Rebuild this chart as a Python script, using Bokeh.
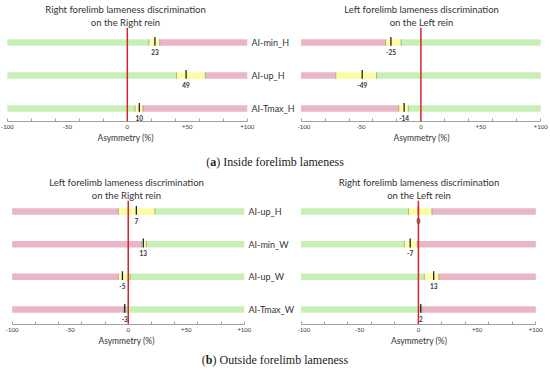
from bokeh.plotting import figure
from bokeh.models import Range1d, FixedTicker, Span, Div, ColumnDataSource, Title
from bokeh.layouts import column, row
from bokeh.embed import file_html
from bokeh.resources import INLINE
from bokeh.core.properties import value

# ---------------- data ----------------
# (a) Inside forelimb lameness
a_left_title = ["Right forelimb lameness discrimination", "on the Right rein"]
a_right_title = ["Left forelimb lameness discrimination", "on the Left rein"]
a_labels = ["AI-min_H", "AI-up_H", "AI-Tmax_H"]
a_left_values = [23, 49, 10]
a_left_lo = [18, 41, 6.5]      # green -> yellow
a_left_hi = [27, 65, 13]       # yellow -> pink
a_right_values = [-25, -49, -14]
a_right_lo = [-29.5, -71, -18.5]   # pink -> yellow
a_right_hi = [-16.5, -37, -10.5]   # yellow -> green

# (b) Outside forelimb lameness
b_left_title = ["Left forelimb lameness discrimination", "on the Right rein"]
b_right_title = ["Right forelimb lameness discrimination", "on the Left rein"]
b_labels = ["AI-up_H", "AI-min_W", "AI-up_W", "AI-Tmax_W"]
b_left_values = [7, 13, -5, -3]
b_left_lo = [-8.5, 11.5, -8.5, -4]   # pink -> yellow
b_left_hi = [23, 15.5, 1.5, -2]      # yellow -> green
b_right_values = [0, -7, 13, 2]
b_right_lo = [-8.5, -12, 5, 1.5]     # green -> yellow
b_right_hi = [11.5, -1, 17.5, 3]     # yellow -> pink

tick_values = [-100, -50, 0, 50, 100]
tick_text = ["-100", "-50", "0", "+50", "+100"]
minor_ticks = [-100, -80, -60, -40, -20, 0, 20, 40, 60, 80, 100]

GREEN = "#c8f0b6"
YELLOW = "#fdfca2"
PINK = "#e8b6c6"
RED = "#d8242c"
FONT = "Lato"


def panel(title, labels, vals, lo, hi, left_col, right_col, width, height,
          x_lo, x_hi, border_left, border_right, border_top, border_bottom,
          y_lo, y_hi, show_labels):
    n = len(labels)
    rows = list(range(n, 0, -1))
    p = figure(width=width, height=height, output_backend="svg",
               toolbar_location=None, x_range=Range1d(x_lo, x_hi),
               y_range=Range1d(y_lo, y_hi), title=None,
               y_axis_location="right" if show_labels else None,
               min_border_left=border_left, min_border_right=border_right,
               min_border_top=border_top, min_border_bottom=border_bottom)
    p.outline_line_color = None
    p.grid.visible = False
    p.background_fill_color = "white"
    p.border_fill_color = "white"

    # two-line title: second line nearest the plot, added first
    for line in reversed(title):
        p.add_layout(Title(text=line, align="center", text_font=FONT,
                           text_font_size="9.5px", text_font_style="normal",
                           text_color="#333333", standoff=0, offset=0,
                           text_line_height=1.0), "above")

    # bars: three segments per row
    src = ColumnDataSource(dict(
        y=rows * 3,
        left=[-100] * n + lo + hi,
        right=lo + hi + [100] * n,
        color=[left_col] * n + [YELLOW] * n + [right_col] * n,
    ))
    p.hbar(y="y", left="left", right="right", height=0.2, color="color",
           source=src, line_color=None)
    # thin boundaries
    p.segment(x0=lo + hi, y0=[r - 0.1 for r in rows] * 2,
              x1=lo + hi, y1=[r + 0.1 for r in rows] * 2,
              line_color="#9aa38c", line_width=1, line_alpha=0.8)

    p.add_layout(Span(location=0, dimension="height", line_color=RED,
                      line_width=1.5))

    # value markers
    p.segment(x0=vals, y0=[r - 0.1 for r in rows], x1=vals,
              y1=[r + 0.17 for r in rows], line_color="#222222", line_width=1.3)
    p.text(x=vals, y=rows, text=[str(v) for v in vals], y_offset=9,
           text_align="center", text_baseline="middle",
           text_font=value(FONT), text_font_size="6.5px",
           text_font_style="bold", text_color="#333333")

    # x axis
    ax = p.xaxis[0]
    ax.ticker = FixedTicker(ticks=tick_values, minor_ticks=minor_ticks)
    ax.major_label_overrides = dict(zip(tick_values, tick_text))
    ax.bounds = (-100, 100)
    ax.axis_line_color = "#a0a0a0"
    ax.major_tick_line_color = None
    ax.major_tick_in = 0
    ax.major_tick_out = 0
    ax.minor_tick_line_color = "#a0a0a0"
    ax.minor_tick_in = 3
    ax.minor_tick_out = 0
    ax.major_label_standoff = 3
    ax.major_label_text_font = FONT
    ax.major_label_text_font_size = "6px"
    ax.major_label_text_color = "#333333"
    ax.axis_label = "Asymmetry (%)"
    ax.axis_label_text_font = FONT
    ax.axis_label_text_font_size = "8.5px"
    ax.axis_label_text_font_style = "normal"
    ax.axis_label_text_color = "#333333"
    ax.axis_label_standoff = 1

    if show_labels:
        ya = p.yaxis[0]
        ya.ticker = FixedTicker(ticks=rows)
        ya.major_label_overrides = dict(zip(rows, labels))
        ya.axis_line_color = None
        ya.major_tick_line_color = None
        ya.minor_tick_line_color = None
        ya.major_tick_in = 0
        ya.major_tick_out = 0
        ya.minor_tick_in = 0
        ya.minor_tick_out = 0
        ya.major_label_standoff = 3
        ya.major_label_text_font = FONT
        ya.major_label_text_font_size = "9px"
        ya.major_label_text_color = "#333333"
    return p


p1 = panel(a_left_title, a_labels, a_left_values, a_left_lo, a_left_hi,
           GREEN, PINK, 297, 150, -104, 101, 2, 49, 27, 29, 0.606, 3.455, True)
p2 = panel(a_right_title, a_labels, a_right_values, a_right_lo, a_right_hi,
           PINK, GREEN, 253, 150, -103, 104, 0, 5, 27, 29, 0.606, 3.455, False)
p3 = panel(b_left_title, b_labels, b_left_values, b_left_lo, b_left_hi,
           PINK, GREEN, 297, 178, -104, 101, 7, 50, 28, 26, 0.541, 4.337, True)
p4 = panel(b_right_title, b_labels, b_right_values, b_right_lo, b_right_hi,
           GREEN, PINK, 253, 178, -103, 104, 0, 10, 28, 26, 0.541, 4.337, False)

CAP = ("<div style=\"width:550px;text-align:center;font-family:'Liberation Serif',serif;"
       "font-size:12px;padding-top:{pt}px;line-height:14px;color:#222;\">{t}</div>")
div_a = Div(text=CAP.format(pt=5, t="(<b>a</b>) Inside forelimb lameness"),
            width=550, height=22, margin=0)
div_b = Div(text=CAP.format(pt=3, t="(<b>b</b>) Outside forelimb lameness"),
            width=550, height=20, margin=0)

layout = column(row(p1, p2), div_a, row(p3, p4), div_b)

open("out.html", "w").write(file_html(layout, INLINE))
